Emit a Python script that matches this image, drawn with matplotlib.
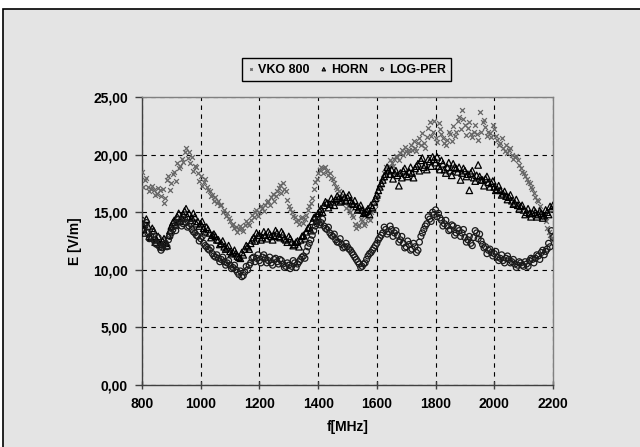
import numpy as np
import matplotlib
matplotlib.use("Agg")
import matplotlib.pyplot as plt
from matplotlib.ticker import FuncFormatter
from matplotlib.patches import Rectangle

plt.rcParams['font.family'] = ['Liberation Sans', 'DejaVu Sans']

# sweep A: 800..2200 step 10 MHz
freq_a = list(range(800, 2201, 10))
# sweep B: 805..2195 step 10 MHz
freq_b = list(range(805, 2200, 10))

vko800_a = [18.5, 17.8, 17.2, 17.0, 16.9, 16.6, 16.9, 17.0, 16.2, 18.1,
            17.5, 18.5, 19.3, 19.0, 19.4, 20.6, 20.2, 19.8, 19.0, 18.4,
            18.1, 17.6, 17.2, 16.8, 16.5, 16.3, 16.0, 15.6, 15.2, 14.9,
            14.2, 14.0, 13.7, 13.5, 13.6, 13.9, 14.1, 14.3, 14.6, 15.2,
            15.0, 15.4, 15.6, 16.0, 16.3, 16.0, 16.8, 17.4, 17.5, 16.8,
            15.5, 15.0, 14.6, 14.3, 14.5, 14.1, 14.8, 15.5, 16.2, 17.6,
            18.4, 18.9, 18.8, 18.6, 18.4, 17.9, 17.2, 16.8, 16.2, 15.8,
            15.5, 15.0, 14.6, 13.6, 13.9, 14.2, 14.1, 14.5, 15.0, 15.2,
            16.2, 17.2, 18.0, 18.9, 19.0, 19.3, 19.6, 19.8, 20.1, 20.0,
            20.3, 20.4, 20.4, 20.6, 21.0, 20.8, 21.0, 21.5, 22.8, 22.0,
            21.4, 22.7, 21.8, 21.0, 21.3, 21.8, 22.5, 22.0, 23.3, 23.9,
            22.6, 22.3, 21.8, 22.0, 21.8, 23.7, 22.8, 22.4, 22.0, 21.5,
            22.2, 21.3, 21.0, 20.6, 20.8, 20.4, 20.0, 19.8, 19.5, 18.8,
            18.4, 17.9, 17.5, 17.0, 16.3, 16.0, 15.0, 14.6, 13.6, 13.0,
            12.6]
vko800_b = [17.2, 18.0, 16.8, 17.3, 16.5, 17.1, 16.4, 15.8, 17.8, 16.9,
            18.3, 17.7, 18.8, 19.6, 20.2, 19.7, 19.3, 18.6, 18.9, 17.7,
            17.3, 17.9, 16.9, 16.4, 16.0, 15.8, 15.6, 15.0, 14.7, 14.5,
            13.9, 13.6, 13.3, 13.8, 13.4, 14.2, 13.9, 14.8, 15.0, 14.7,
            15.5, 15.1, 15.9, 15.6, 16.6, 16.4, 17.1, 16.7, 17.0, 16.1,
            15.3, 14.7, 14.2, 14.0, 14.6, 14.4, 15.2, 15.8, 17.0, 17.9,
            18.7, 18.4, 18.9, 18.2, 18.0, 17.5, 17.0, 16.4, 15.9, 15.4,
            15.2, 14.8, 14.0, 13.8, 14.4, 13.9, 14.7, 14.3, 15.3, 15.7,
            16.6, 17.6, 18.4, 18.6, 19.5, 19.0, 19.9, 19.5, 20.4, 20.7,
            20.1, 20.8, 21.2, 20.3, 21.4, 21.9, 20.6, 22.3, 21.6, 22.9,
            21.1, 22.2, 21.4, 20.8, 22.0, 21.2, 21.6, 22.9, 22.2, 23.1,
            21.7, 22.8, 21.5, 22.6, 21.3, 22.0, 23.0, 21.6, 21.9, 22.6,
            21.6, 20.8, 21.4, 20.3, 20.1, 20.6, 19.6, 19.9, 19.1, 18.5,
            18.1, 17.6, 17.2, 16.7, 16.1, 15.5, 14.8, 14.2, 13.3, 12.8]

horn_a = [14.0, 13.2, 13.8, 12.8, 13.4, 12.6, 12.2, 12.5, 12.3, 13.0,
          13.8, 14.3, 14.6, 14.2, 14.8, 15.3, 14.9, 14.5, 14.6, 14.2,
          14.0, 13.6, 13.7, 13.2, 13.0, 12.9, 12.6, 12.3, 12.0, 11.9,
          11.6, 11.5, 11.4, 11.1, 11.5, 11.8, 12.0, 12.3, 12.8, 13.2,
          13.0, 12.8, 13.0, 13.3, 12.9, 13.0, 13.2, 12.8, 13.1, 12.6,
          12.9, 12.4, 12.2, 12.5, 12.6, 13.0, 13.3, 13.7, 14.2, 14.6,
          14.9, 15.3, 15.6, 15.8, 15.7, 15.9, 16.1, 16.2, 16.0, 16.3,
          16.3, 16.0, 15.7, 15.5, 15.4, 15.2, 15.0, 15.3, 15.6, 15.9,
          16.5, 17.2, 17.8, 18.3, 18.6, 18.7, 18.4, 18.2, 18.4, 18.6,
          18.3, 18.5, 18.4, 18.8, 19.2, 19.5, 18.9, 18.7, 19.4, 19.8,
          19.3, 19.0, 19.5, 18.7, 18.9, 18.6, 19.2, 18.8, 18.9, 18.4,
          18.6, 18.3, 18.4, 18.0, 18.2, 18.1, 17.8, 17.9, 17.6, 17.5,
          17.2, 17.0, 16.9, 16.6, 16.4, 16.3, 16.0, 15.8, 15.6, 15.5,
          15.2, 15.0, 14.9, 14.9, 15.0, 14.8, 14.9, 14.7, 15.0, 15.5,
          15.6]
horn_b = [13.5, 14.4, 12.9, 13.6, 12.4, 12.9, 12.0, 12.7, 12.1, 13.4,
          14.1, 13.9, 14.9, 14.5, 15.1, 14.6, 14.3, 14.9, 14.0, 13.8,
          14.2, 13.3, 13.5, 12.8, 13.1, 12.6, 12.2, 12.5, 11.8, 12.1,
          11.4, 11.7, 11.2, 11.0, 11.3, 12.1, 11.8, 12.6, 12.5, 13.0,
          12.6, 13.3, 12.7, 13.1, 12.6, 13.4, 12.9, 13.3, 12.7, 12.4,
          12.7, 12.1, 12.4, 12.0, 12.9, 12.7, 13.6, 13.4, 14.5, 14.3,
          15.1, 15.0, 15.9, 15.4, 16.2, 15.6, 16.4, 15.9, 16.6, 16.0,
          16.5, 15.8, 16.0, 15.2, 15.6, 14.9, 15.1, 14.8, 15.4, 16.2,
          16.9, 17.5, 18.1, 18.9, 18.3, 17.9, 18.6, 17.3, 18.0, 18.8,
          18.1, 18.9, 18.0, 19.0, 18.6, 19.7, 19.1, 19.6, 19.0, 19.6,
          19.8, 18.7, 19.2, 18.4, 19.3, 18.2, 18.9, 18.5, 17.8, 18.8,
          18.1, 16.9, 18.6, 17.7, 19.1, 17.8, 17.3, 18.1, 17.2, 17.7,
          16.9, 17.3, 16.5, 16.8, 16.1, 16.5, 15.7, 16.1, 15.3, 15.6,
          14.8, 15.3, 14.6, 15.2, 14.6, 15.1, 14.5, 15.2, 14.8, 15.3]

logper_a = [14.3, 13.8, 13.2, 12.9, 12.6, 12.2, 12.0, 11.9, 12.3, 12.6,
            13.2, 13.8, 14.1, 14.2, 14.0, 14.1, 13.8, 13.5, 13.2, 12.9,
            12.7, 12.3, 12.0, 11.7, 11.4, 11.1, 11.0, 10.9, 10.7, 10.6,
            10.4, 10.2, 10.0, 9.6, 9.4, 9.8, 10.0, 10.6, 11.1, 11.0,
            10.8, 11.1, 11.0, 10.8, 10.6, 10.9, 10.7, 10.9, 10.5, 10.3,
            10.4, 10.3, 10.6, 10.5, 10.9, 11.2, 11.6, 12.3, 13.0, 13.8,
            14.3, 14.1, 13.8, 13.5, 13.2, 12.9, 12.6, 12.4, 12.2, 12.0,
            12.0, 11.7, 11.3, 10.9, 10.5, 10.3, 10.6, 11.2, 11.5, 11.9,
            12.3, 12.8, 13.2, 13.5, 13.3, 13.5, 13.2, 13.0, 12.6, 12.3,
            12.0, 12.2, 11.8, 12.0, 11.7, 12.9, 13.5, 14.0, 14.4, 15.0,
            15.2, 14.9, 14.3, 14.0, 13.8, 13.5, 13.8, 13.2, 13.4, 13.2,
            12.8, 12.6, 12.3, 12.8, 13.2, 13.1, 12.2, 12.0, 11.7, 11.5,
            11.4, 11.1, 11.0, 10.8, 11.0, 10.9, 10.7, 10.5, 10.4, 10.6,
            10.3, 10.5, 10.8, 10.9, 11.0, 11.2, 11.5, 11.3, 11.8, 12.0,
            12.8]
logper_b = [13.6, 14.1, 12.7, 13.3, 12.3, 12.8, 11.7, 12.2, 12.0, 12.9,
            13.5, 13.4, 14.4, 13.8, 14.4, 13.7, 14.0, 13.3, 13.0, 12.5,
            12.9, 12.1, 11.8, 11.9, 11.2, 11.3, 10.7, 11.1, 10.4, 10.8,
            10.1, 10.4, 9.8, 9.9, 9.5, 10.3, 10.4, 11.0, 10.7, 11.3,
            10.6, 11.3, 10.6, 11.1, 10.4, 11.0, 10.5, 10.8, 10.2, 10.6,
            10.1, 10.8, 10.2, 10.7, 11.1, 11.0, 12.0, 12.6, 13.4, 14.0,
            13.9, 14.4, 13.6, 13.7, 13.0, 13.1, 12.4, 12.7, 11.9, 12.3,
            11.8, 11.5, 11.1, 10.7, 10.2, 10.5, 10.9, 11.4, 11.7, 12.1,
            12.6, 13.0, 13.7, 13.1, 13.8, 12.9, 13.4, 12.4, 12.9, 11.9,
            12.5, 11.7, 12.3, 11.5, 12.4, 13.2, 13.8, 14.6, 14.2, 14.8,
            14.6, 14.5, 13.8, 14.3, 13.4, 13.9, 13.0, 13.6, 12.9, 13.5,
            12.4, 12.9, 12.1, 13.4, 12.7, 12.5, 11.9, 11.4, 11.8, 11.2,
            11.6, 10.8, 11.3, 10.6, 11.2, 10.6, 10.9, 10.2, 10.7, 10.4,
            10.7, 10.3, 11.0, 10.6, 11.3, 10.9, 11.7, 11.6, 12.3, 13.4]

series_names = ['VKO 800', 'HORN', 'LOG-PER']
x_ticks = [800, 1000, 1200, 1400, 1600, 1800, 2000, 2200]
y_ticks = [0, 5, 10, 15, 20, 25]

BG = '#e4e4e4'
fig = plt.figure(figsize=(6.4, 4.47), dpi=100, facecolor='white')
fig.patches.append(Rectangle((3 / 640, -0.01), 1.0, (447 - 9) / 447 + 0.01,
                             transform=fig.transFigure, facecolor=BG,
                             edgecolor='black', linewidth=1.2, zorder=-10))

ax = fig.add_axes([142 / 640, (447 - 385) / 447, 411 / 640, 288 / 447])
ax.set_facecolor(BG)

vko_style = dict(marker='x', s=12, c='#666666', linewidths=0.9, zorder=3)
horn_style = dict(marker='^', s=22, facecolors='none', edgecolors='black',
                  linewidths=0.9, zorder=3)
log_style = dict(marker='o', s=18, facecolors='none', edgecolors='#1a1a1a',
                 linewidths=0.9, zorder=3)

ax.scatter(freq_a, vko800_a, label=series_names[0], **vko_style)
ax.scatter(freq_b, vko800_b, **vko_style)
ax.scatter(freq_a, horn_a, label=series_names[1], **horn_style)
ax.scatter(freq_b, horn_b, **horn_style)
ax.scatter(freq_a, logper_a, label=series_names[2], **log_style)
ax.scatter(freq_b, logper_b, **log_style)

ax.set_xlim(800, 2200)
ax.set_ylim(0, 25)
ax.set_xticks(x_ticks)
ax.set_yticks(y_ticks)
ax.yaxis.set_major_formatter(FuncFormatter(lambda v, p: f"{v:.2f}".replace('.', ',')))
ax.grid(True, color='black', linestyle=(0, (4, 4)), linewidth=0.8, zorder=1)
ax.set_axisbelow(True)

for s in ['left', 'bottom']:
    ax.spines[s].set_color('#404040')
    ax.spines[s].set_linewidth(1.0)
for s in ['top', 'right']:
    ax.spines[s].set_color('#808080')
    ax.spines[s].set_linewidth(1.0)

ax.tick_params(axis='x', direction='inout', length=6, width=1, color='#404040',
               pad=6, labelsize=10)
ax.tick_params(axis='y', direction='out', length=5, width=1, color='#404040',
               pad=5, labelsize=10)
for lab in ax.get_xticklabels() + ax.get_yticklabels():
    lab.set_fontweight('bold')

ax.set_ylabel('E [V/m]', fontsize=10, fontweight='bold')
ax.set_xlabel('f[MHz]', fontsize=10, fontweight='bold')
ax.yaxis.set_label_coords(-0.145, 0.5)
ax.xaxis.set_label_coords(0.5, -0.122)

leg = fig.legend(loc='center', bbox_to_anchor=(0.542, 0.8445), ncol=3,
                 frameon=True, fancybox=False, edgecolor='black', facecolor=BG,
                 framealpha=1, handlelength=0.5, handletextpad=0.3,
                 columnspacing=0.9, borderpad=0.45, markerscale=0.5,
                 prop={'weight': 'bold', 'size': 9})
leg.get_frame().set_linewidth(1.0)

fig.savefig('out.png', dpi=100, facecolor=fig.get_facecolor())
